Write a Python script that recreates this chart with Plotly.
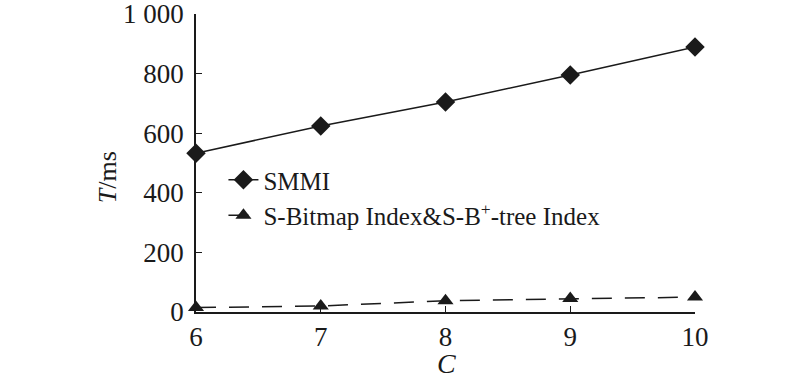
import plotly.graph_objects as go

C = [6, 7, 8, 9, 10]
smmi = [533, 624, 705, 795, 889]
sbitmap = [15, 20, 38, 45, 50]
y_tickvals = [0, 200, 400, 600, 800, 1000]
y_ticktext = ["0", "200", "400", "600", "800", "1 000"]

FONT = "Liberation Serif, Times New Roman, serif"
INK = "#1a1a1a"

fig = go.Figure()
fig.add_trace(go.Scatter(
    x=C, y=smmi, name="SMMI", mode="lines+markers",
    line=dict(color=INK, width=1.5),
    marker=dict(symbol="diamond", size=15, color=INK),
    cliponaxis=False,
))
fig.add_trace(go.Scatter(
    x=C, y=sbitmap, name="S-Bitmap Index&S-B<sup>+</sup>-tree Index", mode="lines+markers",
    line=dict(color=INK, width=1.5, dash="20px,13px"),
    marker=dict(symbol="triangle-up", size=14, color=INK),
    cliponaxis=False,
))

fig.update_layout(
    width=800, height=380,
    margin=dict(l=196, r=105, t=14, b=68, autoexpand=False),
    paper_bgcolor="white", plot_bgcolor="white",
    font=dict(family=FONT, size=27, color=INK),
    showlegend=True,
    legend=dict(x=0.055, y=0.52, xanchor="left", yanchor="top",
                bgcolor="rgba(0,0,0,0)", font=dict(size=25), tracegroupgap=0),
    xaxis=dict(range=[6, 10], tickvals=C, ticks="inside", ticklen=6,
               showline=True, linecolor=INK, linewidth=1.5, automargin=False,
               ticklabeloverflow="allow",
               showgrid=False, zeroline=False, tickcolor=INK),
    yaxis=dict(range=[0, 1000], tickvals=y_tickvals, ticktext=y_ticktext,
               ticks="inside", ticklen=6, showline=True, linecolor=INK, automargin=False,
               ticklabelstandoff=5, ticklabeloverflow="allow",
               linewidth=1.5, showgrid=False, zeroline=False, tickcolor=INK),
    annotations=[
        dict(text="<i>T</i>/ms", xref="paper", yref="paper", x=-0.178, y=0.453,
             xanchor="center", yanchor="middle",
             textangle=-90, showarrow=False, font=dict(size=26)),
        dict(text="<i>C</i>", xref="paper", yref="paper", x=0.503, y=-0.172,
             xanchor="center", yanchor="middle", showarrow=False, font=dict(size=28)),
    ],
)

fig.write_html("out.html", post_script="document.body.style.margin='0';",
               config={"displayModeBar": False})
